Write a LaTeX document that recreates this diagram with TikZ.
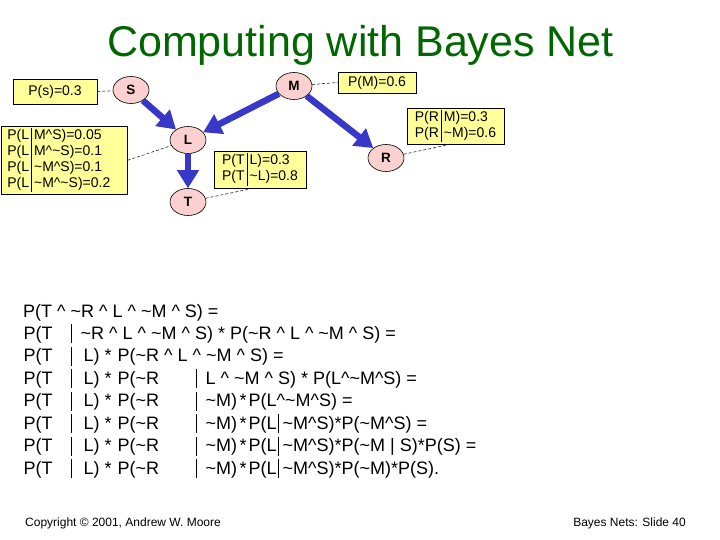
\documentclass[tikz,border=0pt]{standalone}
\usepackage{fontspec}
\setmainfont{Liberation Sans}
\usetikzlibrary{arrows.meta,shapes.geometric}
\definecolor{titlegreen}{RGB}{0,102,0}
\definecolor{arrblue}{RGB}{55,55,200}
\definecolor{nodepink}{RGB}{250,208,208}
\definecolor{boxyellow}{RGB}{255,255,153}
\newcommand\ca{\textasciicircum}
\newcommand\ti{\textasciitilde}
\newcommand\vb{\rule[-4pt]{0.8pt}{19pt}}
\newcommand\putat[2]{\rlap{\hspace*{\dimexpr#1pt-23pt\relax}#2}}
\tikzset{
  var/.style={ellipse, draw=black, line width=0.6pt, fill=nodepink, minimum width=36pt, minimum height=27pt, inner sep=0pt, font=\fontsize{13.5}{15}\selectfont\bfseries},
  cpt/.style={draw=black, line width=0.6pt, fill=boxyellow, inner sep=2pt, font=\fontsize{14}{16}\selectfont},
  arr/.style={draw=arrblue, line width=6.5pt, -{Triangle[length=18pt,width=21pt]}},
  dashlink/.style={draw=black, line width=0.5pt, dash pattern=on 3pt off 2pt},
  eq/.style={anchor=base west, inner sep=0pt, font=\fontsize{18}{22}\selectfont},
  foot/.style={inner sep=0pt, font=\fontsize{12}{14}\selectfont}
}
\begin{document}
\begin{tikzpicture}[x=1pt,y=-1pt]
\useasboundingbox (0,0) rectangle (720,540);
\fill[white] (0,0) rectangle (720,540);
% title
\node[anchor=base, inner sep=0pt, text=titlegreen, font=\fontsize{43}{50}\selectfont] (title) at (360.5,57) {Computing with Bayes Net};
% variables
\node[var] (S) at (131,90) {S};
\node[var] (M) at (294,86) {M};
\node[var] (L) at (188,140) {L};
\node[var] (T) at (188,202) {T};
\node[var] (R) at (386,158) {R};
% CPT boxes
\node[cpt, minimum width=84pt, minimum height=25pt] (ps) at (55,91.5) {P(s)=0.3};
\node[cpt, minimum width=78pt, minimum height=21pt] (pm) at (377,82.5) {P(M)=0.6};
\node[cpt, minimum width=126pt, minimum height=68pt, anchor=north west] (pl) at (1,126)
  {\makebox[120pt][l]{\hspace*{3pt}\setlength\tabcolsep{2.5pt}\begin{tabular}{@{}l|l@{}}
   P(L & M\ca S)=0.05\\
   P(L & M\ca\ti S)=0.1\\
   P(L & \ti M\ca S)=0.1\\
   P(L & \ti M\ca\ti S)=0.2
   \end{tabular}}};
\node[cpt, minimum width=92pt, minimum height=37pt] (pt) at (260,169.5)
  {\setlength\tabcolsep{2.5pt}\begin{tabular}{@{}l|l@{}}
   P(T & L)=0.3\\
   P(T & \ti L)=0.8
   \end{tabular}};
\node[cpt, minimum width=97pt, minimum height=36pt] (pr) at (455.5,126)
  {\setlength\tabcolsep{2.5pt}\begin{tabular}{@{}l|l@{}}
   P(R & M)=0.3\\
   P(R & \ti M)=0.6
   \end{tabular}};
% arrows
\draw[arr] (S) -- (L);
\draw[arr] (M) -- (L);
\draw[arr] (M) -- (R);
\draw[arr] (L) -- (T);
% dashed links
\draw[dashlink] (ps.east) -- (S);
\draw[dashlink] (M) -- (pm.west);
\draw[dashlink] (pl.east) -- (L);
\draw[dashlink] (T) -- ([xshift=-7pt]pt.south);
\draw[dashlink] (R) -- ([xshift=-5pt]pr.south);
% equations
\node[eq] (e1) at (23,317) {P(T \ca{} \ti R \ca{} L \ca{} \ti M \ca{} S) =};
\node[eq] (e2) at (23,339.4) {\putat{23}{P(T}\putat{70}{\vb}\putat{80}{\ti R \ca{} L \ca{} \ti M \ca{} S) * P(\ti R \ca{} L \ca{} \ti M \ca{} S) =}};
\node[eq] (e3) at (23,361.9) {\putat{23}{P(T}\putat{70}{\vb}\putat{83}{L)}\putat{104}{*}\putat{117}{P(\ti R \ca{} L \ca{} \ti M \ca{} S) =}};
\node[eq] (e4) at (23,384.3) {\putat{23}{P(T}\putat{70}{\vb}\putat{83}{L)}\putat{104}{*}\putat{117}{P(\ti R}\putat{195}{\vb}\putat{205}{L \ca{} \ti M \ca{} S) * P(L\ca\ti M\ca S) =}};
\node[eq] (e5) at (23,406.7) {\putat{23}{P(T}\putat{70}{\vb}\putat{83}{L)}\putat{104}{*}\putat{117}{P(\ti R}\putat{195}{\vb}\putat{205}{\ti M)}\putat{239}{*}\putat{248}{P(L\ca\ti M\ca S) =}};
\node[eq] (e6) at (23,429.1) {\putat{23}{P(T}\putat{70}{\vb}\putat{83}{L)}\putat{104}{*}\putat{117}{P(\ti R}\putat{195}{\vb}\putat{205}{\ti M)}\putat{239}{*}\putat{248}{P(L}\putat{277}{\vb}\putat{282}{\ti M\ca S)*P(\ti M\ca S) =}};
\node[eq] (e7) at (23,451.6) {\putat{23}{P(T}\putat{70}{\vb}\putat{83}{L)}\putat{104}{*}\putat{117}{P(\ti R}\putat{195}{\vb}\putat{205}{\ti M)}\putat{239}{*}\putat{248}{P(L}\putat{277}{\vb}\putat{282}{\ti M\ca S)*P(\ti M | S)*P(S) =}};
\node[eq] (e8) at (23,474) {\putat{23}{P(T}\putat{70}{\vb}\putat{83}{L)}\putat{104}{*}\putat{117}{P(\ti R}\putat{195}{\vb}\putat{205}{\ti M)}\putat{239}{*}\putat{248}{P(L}\putat{277}{\vb}\putat{282}{\ti M\ca S)*P(\ti M)*P(S).}};
% footer
\node[foot, anchor=base west] (copy) at (25,526) {Copyright © 2001, Andrew W. Moore};
\node[foot, anchor=base east] (slide) at (686,526) {Bayes Nets: Slide 40};
\end{tikzpicture}
\end{document}
